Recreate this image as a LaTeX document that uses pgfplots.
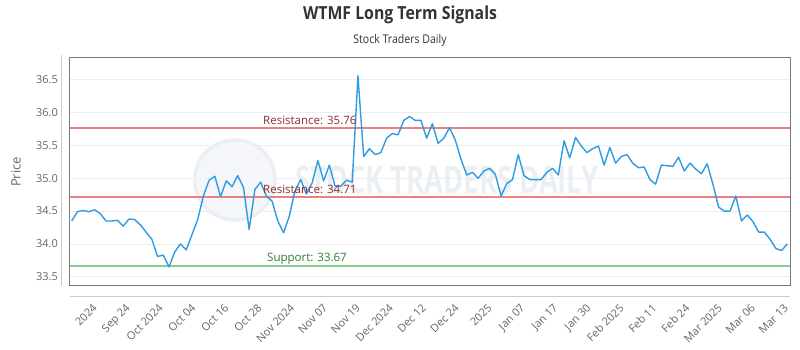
\documentclass[border=0pt]{standalone}
\usepackage{pgfplots}
\pgfplotsset{compat=1.18}
\usepackage{fontspec}
\setmainfont{Open Sans}
\newfontfamily\titlefont[FakeStretch=0.88]{Open Sans}
\newfontfamily\wmfont[FakeStretch=0.72]{Open Sans}
\definecolor{linecol}{HTML}{2E9BE3}
\definecolor{rescol}{HTML}{E68282}
\definecolor{restext}{HTML}{8E2B2B}
\definecolor{supcol}{HTML}{8ACB8A}
\definecolor{suptext}{HTML}{2F7A2F}
\definecolor{gridcol}{HTML}{EDEDED}
\definecolor{boxcol}{HTML}{7A7A7A}
\definecolor{ticktext}{HTML}{666666}
\definecolor{wmcol}{HTML}{EAEFF4}
\begin{document}
\begin{tikzpicture}
\useasboundingbox (-70pt,-64pt) rectangle (730pt,286pt);
\node[font=\titlefont\bfseries\fontsize{18}{20}\selectfont, text=black!80] at (330pt,271pt) {WTMF Long Term Signals};
\node[font=\titlefont\fontsize{12}{14}\selectfont, text=black!80] at (330pt,246pt) {Stock Traders Daily};
\begin{axis}[
  at={(0,0)}, anchor=south west,
  width=720pt, height=228pt, scale only axis,
  xmin=0.7, xmax=126.47, ymin=33.36, ymax=36.83,
  axis line style={boxcol, line width=1pt},
  ytick={33.5,34,34.5,35,35.5,36,36.5},
  yticklabel style={/pgf/number format/fixed, /pgf/number format/precision=1, /pgf/number format/fixed zerofill, font=\fontsize{11}{12}\selectfont, text=ticktext, inner sep=0pt, anchor=east, xshift=-12pt},
  /pgf/number format/assume math mode=true,
  xtick={4.20,9.95,15.70,21.44,27.19,32.94,38.69,44.44,50.18,55.93,61.68,67.43,73.18,78.92,84.67,90.42,96.17,101.92,107.66,113.41,119.16,124.91},
  xticklabels={2024,Sep 24,Oct 2024,Oct 04,Oct 16,Oct 28,Nov 2024,Nov 07,Nov 19,Dec 2024,Dec 12,Dec 24,2025,Jan 07,Jan 17,Jan 30,Feb 2025,Feb 11,Feb 24,Mar 2025,Mar 06,Mar 13},
  xticklabel style={font=\fontsize{11}{12}\selectfont, text=ticktext, inner sep=0pt, xshift=2pt, yshift=-17pt, rotate=45, anchor=north east},
  major tick length=0pt,
  ymajorgrids, grid style={gridcol, line width=0.8pt},
  ylabel={Price},
  every axis y label/.style={at={(axis description cs:-0.075,0.5)}, rotate=90, anchor=center, font=\fontsize{13}{14}\selectfont, text=ticktext},
  clip=false,
]
\fill[wmcol!55] (axis description cs:0.229,0.465) circle (42pt);
\draw[wmcol, line width=3pt] (axis description cs:0.229,0.465) circle (40pt);
\node[font=\wmfont\bfseries\fontsize{38}{40}\selectfont, text=wmcol] at (axis description cs:0.524,0.465) {STOCK TRADERS DAILY};
\draw[black!20, line width=1pt] (axis description cs:-0.0125,1.013) -- (axis description cs:-0.0125,0);
\draw[black!20, line width=1pt] (axis description cs:0,-0.0439) -- (axis description cs:1,-0.0439);
\addplot[rescol, line width=2pt, forget plot] coordinates {(0.7,35.76) (126.47,35.76)};
\addplot[rescol, line width=2pt, forget plot] coordinates {(0.7,34.71) (126.47,34.71)};
\addplot[supcol, line width=2pt, forget plot] coordinates {(0.7,33.67) (126.47,33.67)};
\addplot[linecol, line width=1.4pt, line join=round] coordinates {
(1,34.35) (2,34.49) (3,34.51) (4,34.49) (5,34.52) (6,34.46) (7,34.35) (8,34.35) (9,34.36) (10,34.27)
(11,34.38) (12,34.37) (13,34.29) (14,34.18) (15,34.07) (16,33.81) (17,33.83) (18,33.65) (19,33.88) (20,34.00)
(21,33.91) (22,34.14) (23,34.37) (24,34.73) (25,34.97) (26,35.03) (27,34.72) (28,34.96) (29,34.87) (30,35.04)
(31,34.86) (32,34.22) (33,34.83) (34,34.94) (35,34.73) (36,34.65) (37,34.35) (38,34.17) (39,34.42) (40,34.81)
(41,34.98) (42,34.76) (43,34.93) (44,35.27) (45,34.96) (46,35.20) (47,34.88) (48,34.88) (49,34.97) (50,34.94)
(51,36.56) (52,35.33) (53,35.45) (54,35.36) (55,35.39) (56,35.61) (57,35.68) (58,35.66) (59,35.88) (60,35.94)
(61,35.88) (62,35.88) (63,35.61) (64,35.83) (65,35.53) (66,35.61) (67,35.77) (68,35.58) (69,35.29) (70,35.05)
(71,35.09) (72,35.00) (73,35.11) (74,35.15) (75,35.06) (76,34.73) (77,34.92) (78,34.98) (79,35.36) (80,35.04)
(81,34.98) (82,34.98) (83,34.98) (84,35.09) (85,35.15) (86,35.05) (87,35.57) (88,35.31) (89,35.62) (90,35.49)
(91,35.39) (92,35.45) (93,35.49) (94,35.20) (95,35.47) (96,35.23) (97,35.33) (98,35.36) (99,35.23) (100,35.16)
(101,35.17) (102,34.98) (103,34.91) (104,35.20) (105,35.19) (106,35.18) (107,35.32) (108,35.11) (109,35.23) (110,35.14)
(111,35.07) (112,35.22) (113,34.91) (114,34.56) (115,34.50) (116,34.50) (117,34.73) (118,34.35) (119,34.44) (120,34.34)
(121,34.18) (122,34.18) (123,34.07) (124,33.93) (125,33.90) (126,34.00)
};
\node[font=\fontsize{11.5}{12}\selectfont, text=restext, anchor=base, inner sep=0pt] at (axis cs:42.6,35.76) [yshift=4pt] {Resistance: 35.76};
\node[font=\fontsize{11.5}{12}\selectfont, text=restext, anchor=base, inner sep=0pt] at (axis cs:42.6,34.71) [yshift=4pt] {Resistance: 34.71};
\node[font=\fontsize{11.5}{12}\selectfont, text=suptext, anchor=base, inner sep=0pt] at (axis cs:42.1,33.67) [yshift=4pt] {Support: 33.67};
\end{axis}
\end{tikzpicture}
\end{document}
